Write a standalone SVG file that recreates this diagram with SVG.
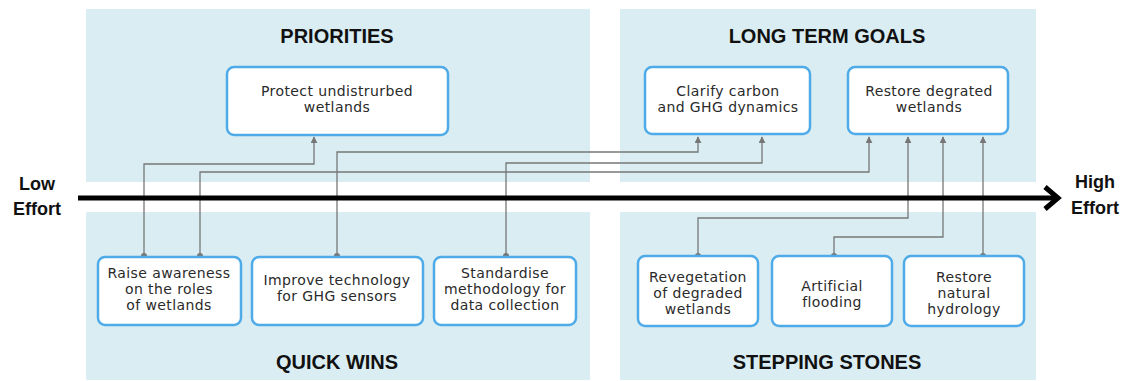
<svg xmlns="http://www.w3.org/2000/svg" width="1126" height="381" viewBox="0 0 1126 381">
<style>
.panel{fill:#daedf3}
.box{fill:#fff;stroke:#4fabe8;stroke-width:2.5}
.t{font-family:"DejaVu Sans",sans-serif;font-size:14px;letter-spacing:0.4px;fill:#2a2a2a;text-anchor:middle}
.h{font-family:"Liberation Sans",Arial,sans-serif;font-weight:bold;font-size:20px;fill:#111;text-anchor:middle}
.ax{font-family:"Liberation Sans",Arial,sans-serif;font-weight:bold;font-size:18px;fill:#111;text-anchor:middle}
.c{fill:none;stroke:#777;stroke-width:1.3}
.dot{fill:#777}
</style>
<defs>
<marker id="ah" viewBox="0 0 10 10" refX="9" refY="5" markerWidth="7" markerHeight="7" markerUnits="userSpaceOnUse" orient="auto">
<path d="M0 0 L10 5 L0 10 z" fill="#777"/>
</marker>
</defs>
<rect width="1126" height="381" fill="#fff"/>
<g id="panels">
<rect class="panel" x="86" y="9" width="504" height="173"/>
<rect class="panel" x="620" y="9" width="416" height="173"/>
<rect class="panel" x="86" y="212" width="504" height="168"/>
<rect class="panel" x="620" y="212" width="416" height="168"/>
<text class="h" x="337" y="43">PRIORITIES</text>
<text class="h" x="827" y="43">LONG TERM GOALS</text>
<text class="h" x="337" y="369">QUICK WINS</text>
<text class="h" x="827" y="369">STEPPING STONES</text>
</g>
<g id="connectors">
<path class="c" d="M144 256 V164 H314 V137" marker-end="url(#ah)"/>
<path class="c" d="M200 256 V172 H869 V137" marker-end="url(#ah)"/>
<path class="c" d="M337 256 V152 H698 V137" marker-end="url(#ah)"/>
<path class="c" d="M506 256 V163 H762 V137" marker-end="url(#ah)"/>
<path class="c" d="M698 256 V218 H908 V137" marker-end="url(#ah)"/>
<path class="c" d="M834 256 V237 H943 V137" marker-end="url(#ah)"/>
<path class="c" d="M983 256 V137" marker-end="url(#ah)"/>
<circle class="dot" cx="144" cy="256" r="3"/>
<circle class="dot" cx="200" cy="256" r="3"/>
<circle class="dot" cx="337" cy="256" r="3"/>
<circle class="dot" cx="506" cy="256" r="3"/>
<circle class="dot" cx="698" cy="256" r="3"/>
<circle class="dot" cx="834" cy="256" r="3"/>
<circle class="dot" cx="983" cy="256" r="3"/>
</g>
<g id="axis">
<line x1="78" y1="198" x2="1056" y2="198" stroke="#000" stroke-width="5"/>
<path d="M1045 187 L1058 198 L1045 209" fill="none" stroke="#000" stroke-width="5"/>
<text class="ax" x="37" y="190">Low</text>
<text class="ax" x="37" y="215">Effort</text>
<text class="ax" x="1095" y="188">High</text>
<text class="ax" x="1095" y="214">Effort</text>
</g>
<g id="protect">
<rect class="box" x="227" y="67" width="221" height="68" rx="7"/>
<text class="t" x="337" y="96">Protect undistrurbed</text>
<text class="t" x="337" y="112">wetlands</text>
</g>
<g id="clarify">
<rect class="box" x="645" y="67" width="165" height="67" rx="7"/>
<text class="t" x="728" y="96">Clarify carbon</text>
<text class="t" x="728" y="112">and GHG dynamics</text>
</g>
<g id="restore-degraded">
<rect class="box" x="848" y="67" width="160" height="67" rx="7"/>
<text class="t" x="929" y="96">Restore degrated</text>
<text class="t" x="929" y="112">wetlands</text>
</g>
<g id="raise">
<rect class="box" x="98" y="257" width="143" height="68" rx="7"/>
<text class="t" x="169" y="278">Raise awareness</text>
<text class="t" x="169" y="294">on the roles</text>
<text class="t" x="169" y="310">of wetlands</text>
</g>
<g id="improve">
<rect class="box" x="252" y="257" width="171" height="68" rx="7"/>
<text class="t" x="337" y="285">Improve technology</text>
<text class="t" x="337" y="301">for GHG sensors</text>
</g>
<g id="standardise">
<rect class="box" x="434" y="257" width="142" height="68" rx="7"/>
<text class="t" x="505" y="278">Standardise</text>
<text class="t" x="505" y="294">methodology for</text>
<text class="t" x="505" y="310">data collection</text>
</g>
<g id="revegetation">
<rect class="box" x="638" y="256" width="120" height="70" rx="7"/>
<text class="t" x="698" y="282">Revegetation</text>
<text class="t" x="698" y="298">of degraded</text>
<text class="t" x="698" y="314">wetlands</text>
</g>
<g id="flooding">
<rect class="box" x="772" y="256" width="120" height="70" rx="7"/>
<text class="t" x="832" y="291">Artificial</text>
<text class="t" x="832" y="307">flooding</text>
</g>
<g id="hydrology">
<rect class="box" x="904" y="256" width="120" height="70" rx="7"/>
<text class="t" x="964" y="282">Restore</text>
<text class="t" x="964" y="298">natural</text>
<text class="t" x="964" y="314">hydrology</text>
</g>
</svg>
